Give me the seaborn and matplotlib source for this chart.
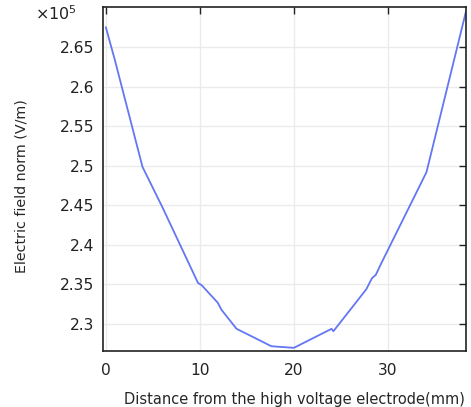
import pandas as pd
import seaborn as sns
import matplotlib.pyplot as plt
from matplotlib.ticker import FuncFormatter

# distance (mm) and electric field norm (V/m)
distancia = [0.0, 0.95, 3.9, 6.0, 9.8, 10.2, 11.9, 12.3, 13.9, 16.1, 17.6, 20.0,
             24.0, 24.2, 27.7, 28.3, 28.7, 29.3, 32.6, 34.1, 38.3]
campo = [2.675e5, 2.634e5, 2.4985e5, 2.448e5, 2.352e5, 2.349e5, 2.327e5, 2.318e5,
         2.294e5, 2.281e5, 2.272e5, 2.270e5, 2.294e5, 2.291e5, 2.344e5, 2.358e5,
         2.362e5, 2.377e5, 2.456e5, 2.492e5, 2.695e5]

df = pd.DataFrame({'x': distancia, 'E': campo})

sns.set_style('white')
fig = plt.figure(figsize=(4.71, 4.07), dpi=100)
ax = fig.add_axes([0.2187, 0.1376, 0.7707, 0.8452])

sns.lineplot(data=df, x='x', y='E', ax=ax, color='#6476f2', linewidth=1.3)

ax.set_xlim(-0.3, 38.3)
ax.set_ylim(2.266e5, 2.7005e5)
ax.set_xticks([0, 10, 20, 30])
ax.set_yticks([2.3e5, 2.35e5, 2.4e5, 2.45e5, 2.5e5, 2.55e5, 2.6e5, 2.65e5])
ax.yaxis.set_major_formatter(FuncFormatter(lambda v, p: '%g' % round(v / 1e5, 3)))

ax.grid(True, color='#ebebeb', linewidth=1.0)
ax.tick_params(direction='in', length=5, width=1, top=True, right=True,
               labelsize=11.2, colors='#222222', labelcolor='#222222')
ax.tick_params(axis='x', pad=9)
ax.tick_params(axis='y', pad=6)
for s in ax.spines.values():
    s.set_color('#222222')
    s.set_linewidth(1.2)

ax.set_xlabel('Distance from the high voltage electrode(mm)', fontsize=10.5, labelpad=9)
ax.xaxis.set_label_coords(0.527, -0.118)
ax.set_ylabel('Electric field norm (V/m)', fontsize=10.3)
ax.yaxis.set_label_coords(-0.205, 0.48)
fig.text(0.074, 0.952, r'$\times$10$^5$', fontsize=11.5, color='#222222')

fig.savefig('out.png', dpi=100)
